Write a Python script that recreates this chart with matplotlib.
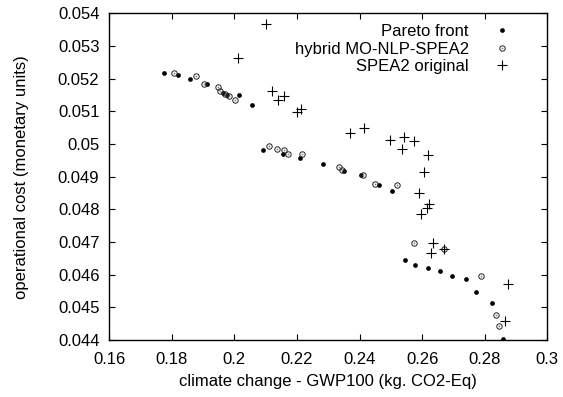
import matplotlib
matplotlib.use("Agg")
import matplotlib.pyplot as plt
from matplotlib.lines import Line2D

plt.rcParams['font.family'] = ['Liberation Sans', 'DejaVu Sans']

pareto_x = [0.1776, 0.1820, 0.1859, 0.1914, 0.1964, 0.1978, 0.2016, 0.2055,
            0.2093, 0.2156, 0.2209, 0.2284, 0.2349, 0.2404, 0.2463, 0.2505,
            0.2546, 0.2577, 0.2619, 0.2657, 0.2697, 0.2740, 0.2772, 0.2824, 0.2858]
pareto_y = [0.05217, 0.05211, 0.05199, 0.05183, 0.05157, 0.05149, 0.05151, 0.05121,
            0.04982, 0.04970, 0.04957, 0.04938, 0.04919, 0.04905, 0.04876, 0.04856,
            0.04646, 0.04630, 0.04622, 0.04612, 0.04595, 0.04587, 0.04547, 0.04512, 0.04402]

hybrid_x = [0.1808, 0.1876, 0.1903, 0.1947, 0.1954, 0.1971, 0.1982, 0.2001,
            0.2110, 0.2137, 0.2159, 0.2172, 0.2216, 0.2335, 0.2345, 0.2410,
            0.2450, 0.2521, 0.2573, 0.2670, 0.2788, 0.2837, 0.2847]
hybrid_y = [0.05218, 0.05210, 0.05185, 0.05176, 0.05163, 0.05153, 0.05147, 0.05134,
            0.04993, 0.04984, 0.04981, 0.04969, 0.04969, 0.04931, 0.04921, 0.04905,
            0.04878, 0.04874, 0.04698, 0.04678, 0.04597, 0.04477, 0.04443]

spea2_x = [0.2102, 0.2013, 0.2120, 0.2138, 0.2159, 0.2201, 0.2213, 0.2371,
           0.2414, 0.2496, 0.2541, 0.2537, 0.2573, 0.2618, 0.2606, 0.2591,
           0.2622, 0.2615, 0.2596, 0.2634, 0.2629, 0.2670, 0.2873, 0.2865]
spea2_y = [0.05369, 0.05265, 0.05162, 0.05134, 0.05146, 0.05098, 0.05106, 0.05034,
           0.05048, 0.05012, 0.05022, 0.04985, 0.05009, 0.04968, 0.04913, 0.04851,
           0.04818, 0.04804, 0.04786, 0.04698, 0.04665, 0.04678, 0.04570, 0.04457]

x_ticks = [0.16, 0.18, 0.2, 0.22, 0.24, 0.26, 0.28, 0.3]
x_ticklabels = ['0.16', '0.18', '0.2', '0.22', '0.24', '0.26', '0.28', '0.3']
y_ticks = [0.044, 0.045, 0.046, 0.047, 0.048, 0.049, 0.05, 0.051, 0.052, 0.053, 0.054]
y_ticklabels = ['0.044', '0.045', '0.046', '0.047', '0.048', '0.049', '0.05',
                '0.051', '0.052', '0.053', '0.054']

FS = 12

fig = plt.figure(figsize=(5.63, 3.97), dpi=100)
ax = fig.add_axes([0.194, 0.1436, 0.778, 0.8224])

ax.plot(pareto_x, pareto_y, linestyle='none', marker='o', markersize=3.4,
        color='black', markeredgewidth=0)
ax.plot(hybrid_x, hybrid_y, linestyle='none', marker='o', markersize=3.9,
        markerfacecolor='none', markeredgecolor='#222222', markeredgewidth=0.7)
ax.plot(hybrid_x, hybrid_y, linestyle='none', marker='o', markersize=1.3,
        color='#888888', markeredgewidth=0)
ax.plot(spea2_x, spea2_y, linestyle='none', marker='+', markersize=7,
        color='black', markeredgewidth=0.8)

ax.set_xlim(0.16, 0.3)
ax.set_ylim(0.044, 0.054)
ax.set_xticks(x_ticks)
ax.set_xticklabels(x_ticklabels)
ax.set_yticks(y_ticks)
ax.set_yticklabels(y_ticklabels)
ax.tick_params(direction='in', length=4, width=0.8, top=True, right=True,
               labelsize=FS, pad=7)
ax.tick_params(axis='x', pad=9)
for s in ax.spines.values():
    s.set_linewidth(1.0)

ax.set_xlabel('climate change - GWP100 (kg. CO2-Eq)', fontsize=FS, labelpad=5)
ax.set_ylabel('operational cost (monetary units)', fontsize=FS, labelpad=21)

h1 = Line2D([], [], linestyle='none', marker='o', markersize=3.4, color='black', markeredgewidth=0)
h2c = Line2D([], [], linestyle='none', marker='o', markersize=3.9, markerfacecolor='none',
             markeredgecolor='#222222', markeredgewidth=0.7)
h2d = Line2D([], [], linestyle='none', marker='o', markersize=1.3, color='#888888', markeredgewidth=0)
h3 = Line2D([], [], linestyle='none', marker='+', markersize=7, color='black', markeredgewidth=0.8)
leg = ax.legend([h1, (h2c, h2d), h3],
                ['Pareto front', 'hybrid MO-NLP-SPEA2', 'SPEA2 original'],
                loc='upper right', bbox_to_anchor=(0.931, 0.988), frameon=False,
                markerfirst=False, fontsize=FS, handlelength=1.0, handletextpad=1.5,
                labelspacing=0.15, borderaxespad=0.0)
for t in leg.get_texts():
    t.set_ha('right')

fig.savefig('out.png', dpi=100)
